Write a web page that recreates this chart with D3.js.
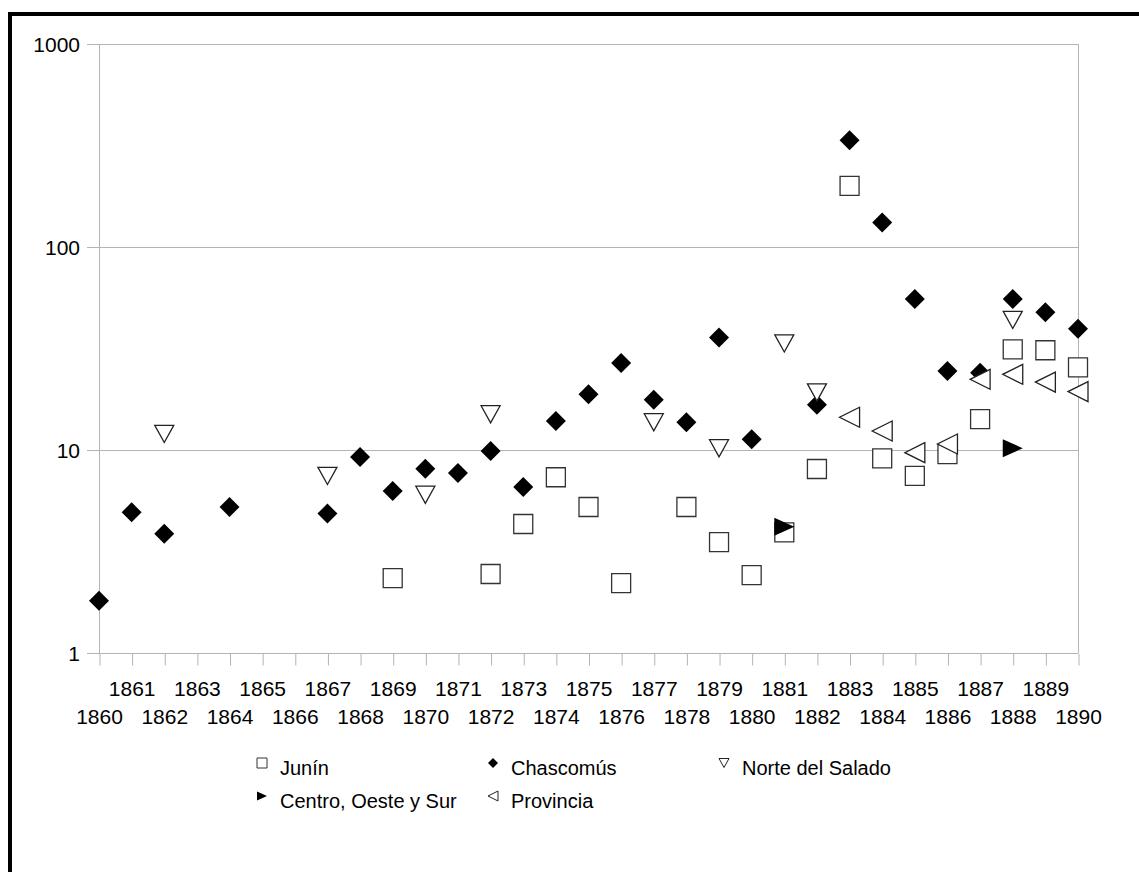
<!DOCTYPE html>
<meta charset="utf-8">
<style>
  body { margin: 0; background: #fff; }
  text { font-family: "Liberation Sans", Arial, sans-serif; }
</style>
<script src="https://d3js.org/d3.v7.min.js"></script>
<body>
<script>
var width = 1139,
    height = 872;

// years on the x axis
var years = d3.range(1860, 1891);

// series values ([year, value])
var junin = [[1869,2.34],[1872,2.45],[1873,4.32],[1874,7.34],[1875,5.24],[1876,2.21],
  [1878,5.24],[1879,3.52],[1880,2.42],[1881,3.93],[1882,8.06],[1883,200],[1884,9.1],
  [1885,7.45],[1886,9.55],[1887,14.2],[1888,31.3],[1889,31.0],[1890,25.5]];
var chascomus = [[1860,1.81],[1861,4.93],[1862,3.87],[1864,5.24],[1867,4.86],[1868,9.24],
  [1869,6.28],[1870,8.09],[1871,7.7],[1872,9.89],[1873,6.57],[1874,13.9],[1875,18.8],
  [1876,26.8],[1877,17.7],[1878,13.7],[1879,35.8],[1880,11.3],[1882,16.7],[1883,336],
  [1884,132],[1885,55.4],[1886,24.5],[1887,24],[1888,55.4],[1889,47.7],[1890,39.6]];
var norte = [[1862,12.0],[1867,7.45],[1870,6.02],[1872,15.0],[1877,13.7],[1879,10.2],
  [1881,33.5],[1882,19.2],[1888,43.7]];
var centro = [[1881,4.19],[1888,10.2]];
var provincia = [[1883,14.5],[1884,12.4],[1885,9.7],[1886,10.7],[1887,22.3],[1888,23.6],
  [1889,21.6],[1890,19.4]];

var yTicks = [1, 10, 100, 1000];

// marker shapes (path generators, centred on 0,0)
var shapes = {
  square: function(s){ var h=s/2; return "M"+(-h)+","+(-h)+"H"+h+"V"+h+"H"+(-h)+"Z"; },
  diamond: function(s){ var h=s/2; return "M0,"+(-h)+"L"+h+",0L0,"+h+"L"+(-h)+",0Z"; },
  down: function(s){ var h=s/2; return "M"+(-h)+","+(-h*0.9)+"H"+h+"L0,"+(h*0.9)+"Z"; },
  right: function(s){ var h=s/2; return "M"+(-h)+","+(-h*0.9)+"L"+h+",0L"+(-h)+","+(h*0.9)+"Z"; },
  left: function(s){ var h=s/2; return "M"+h+","+(-h)+"L"+(-h)+",0L"+h+","+h+"Z"; }
};

var series = [
  {name:"Junín", data:junin, shape:"square", size:19, fill:"#fff", stroke:"#333"},
  {name:"Chascomús", data:chascomus, shape:"diamond", size:20, fill:"#000", stroke:"none"},
  {name:"Norte del Salado", data:norte, shape:"down", size:19, fill:"#fff", stroke:"#222"},
  {name:"Centro, Oeste y Sur", data:centro, shape:"right", size:20, fill:"#000", stroke:"none"},
  {name:"Provincia", data:provincia, shape:"left", size:20, fill:"#fff", stroke:"#222"}
];

var x = d3.scaleLinear().domain([1860, 1890]).range([99, 1078]);
var y = d3.scaleLog().domain([1, 1000]).range([653, 44]);

var svg = d3.select("body").append("svg")
    .attr("width", width)
    .attr("height", height);

// outer frame (right and bottom edges fall outside the picture)
svg.append("rect")
    .attr("x", 10).attr("y", 14)
    .attr("width", 1300).attr("height", 1000)
    .attr("fill", "#fff")
    .attr("stroke", "#000")
    .attr("stroke-width", 4);

var grid = "#b3b3b3";

// horizontal gridlines
svg.append("g").selectAll("line").data(yTicks).enter().append("line")
    .attr("x1", 87).attr("x2", 1078)
    .attr("y1", function(d){ return Math.round(y(d)) + 0.5; })
    .attr("y2", function(d){ return Math.round(y(d)) + 0.5; })
    .attr("stroke", grid);

// left axis and right border
svg.append("line").attr("x1", 99.5).attr("x2", 99.5).attr("y1", 44).attr("y2", 653)
    .attr("stroke", grid);
svg.append("line").attr("x1", 1078.5).attr("x2", 1078.5).attr("y1", 44).attr("y2", 653)
    .attr("stroke", grid);

// y labels
svg.append("g").selectAll("text").data(yTicks).enter().append("text")
    .attr("x", 80)
    .attr("y", function(d){ return y(d); })
    .attr("dy", "0.36em")
    .attr("text-anchor", "end")
    .attr("font-size", 21)
    .text(function(d){ return d; });

// x axis
var xAxis = d3.axisBottom(x)
    .tickValues(years)
    .tickSize(12)
    .tickFormat(d3.format("d"));

var gx = svg.append("g")
    .attr("transform", "translate(0,653.5)")
    .call(xAxis);
gx.select(".domain").remove();
gx.selectAll(".tick line").attr("stroke", grid).attr("transform", "translate(0.5,0)");
gx.selectAll(".tick text")
    .attr("font-family", "Liberation Sans, Arial, sans-serif")
    .attr("font-size", 21)
    .attr("fill", "#000")
    .attr("dy", null)
    .attr("y", function(d){ return d % 2 ? 42 : 70; });

// markers
series.forEach(function(s){
  svg.append("g").selectAll("path").data(s.data).enter().append("path")
      .attr("transform", function(d){ return "translate(" + x(d[0]) + "," + y(d[1]) + ")"; })
      .attr("d", shapes[s.shape](s.size))
      .attr("fill", s.fill)
      .attr("stroke", s.stroke)
      .attr("stroke-width", 1.3);
});

// legend, three equal columns
var legend = svg.append("g");
var colW = 231;
series.forEach(function(s, i){
  var col = i % 3, row = Math.floor(i / 3);
  var lx = 262 + col * colW, ly = 775 + row * 33;
  legend.append("path")
      .attr("transform", "translate(" + lx + "," + (ly - 12) + ")")
      .attr("d", shapes[s.shape](10))
      .attr("fill", s.fill)
      .attr("stroke", s.stroke)
      .attr("stroke-width", 1);
  legend.append("text")
      .attr("x", lx + 18)
      .attr("y", ly)
      .attr("font-size", 20)
      .text(s.name);
});
</script>
</body>
